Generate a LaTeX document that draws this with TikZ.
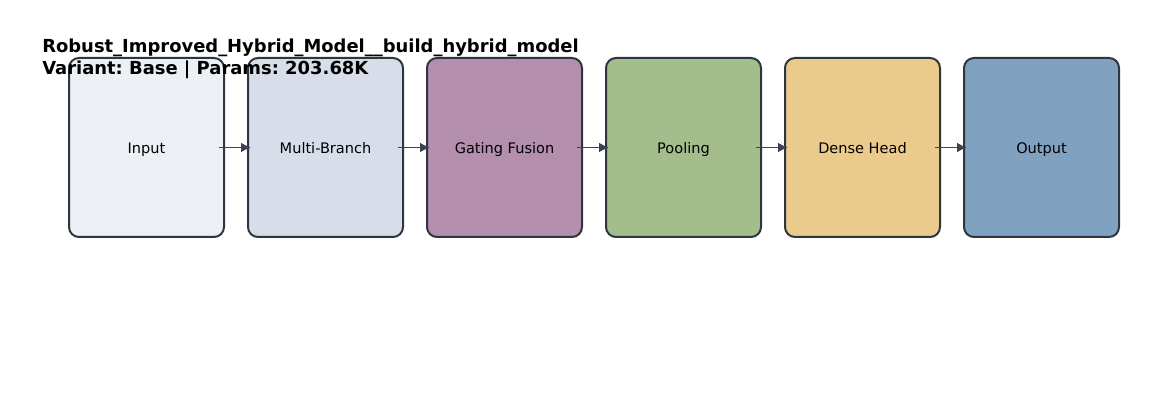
\documentclass[tikz,border=0pt]{standalone}
\usepackage{fontspec}
\setmainfont{DejaVu Sans}
\usetikzlibrary{positioning,arrows.meta}
\frenchspacing

\definecolor{edgecol}{HTML}{2E3440}
\definecolor{arrowcol}{HTML}{3B4252}
\definecolor{inputcol}{HTML}{ECEFF4}
\definecolor{branchcol}{HTML}{D8DEE9}
\definecolor{gatecol}{HTML}{B48EAD}
\definecolor{poolcol}{HTML}{A3BE8C}
\definecolor{densecol}{HTML}{EBCB8B}
\definecolor{outcol}{HTML}{81A1C1}

\tikzset{
  layer/.style={draw=edgecol,line width=1.5pt,rounded corners=7.5pt,
    minimum width=116.25pt,minimum height=134.25pt,inner sep=0pt,
    text height=0.95em,text depth=0.05em,
    font=\fontsize{10.9pt}{12pt}\selectfont},
  flow/.style={draw=arrowcol,line width=1.4pt,-{Latex[length=7.5pt,width=7.5pt]}}
}

\begin{document}
\begin{tikzpicture}[x=0.75pt,y=-0.75pt,node distance=16.5pt]
\useasboundingbox (0,0) rectangle (1170,416);
\node[layer,fill=inputcol] (input) at (146.5,147.5) {Input};
\node[layer,fill=branchcol,right=of input] (branch) {Multi-Branch};
\node[layer,fill=gatecol,right=of branch] (gate) {Gating Fusion};
\node[layer,fill=poolcol,right=of gate] (pool) {Pooling};
\node[layer,fill=densecol,right=of pool] (dense) {Dense Head};
\node[layer,fill=outcol,right=of dense] (output) {Output};
\draw[flow] ([xshift=-4.5pt]input.east) -- ([xshift=3pt]branch.west); %arrows
\draw[flow] ([xshift=-4.5pt]branch.east) -- ([xshift=3pt]gate.west);
\draw[flow] ([xshift=-4.5pt]gate.east) -- ([xshift=3pt]pool.west);
\draw[flow] ([xshift=-4.5pt]pool.east) -- ([xshift=3pt]dense.west);
\draw[flow] ([xshift=-4.5pt]dense.east) -- ([xshift=3pt]output.west);
\node[anchor=north west,inner sep=0pt,align=left,
  font=\bfseries\fontsize{13.45pt}{16.2pt}\selectfont] (title) at (42,39)
  {Robust\_Improved\_Hybrid\_Model\_\_build\_hybrid\_model\\Variant: Base | Params: 203.68K};
\end{tikzpicture}
\end{document}
